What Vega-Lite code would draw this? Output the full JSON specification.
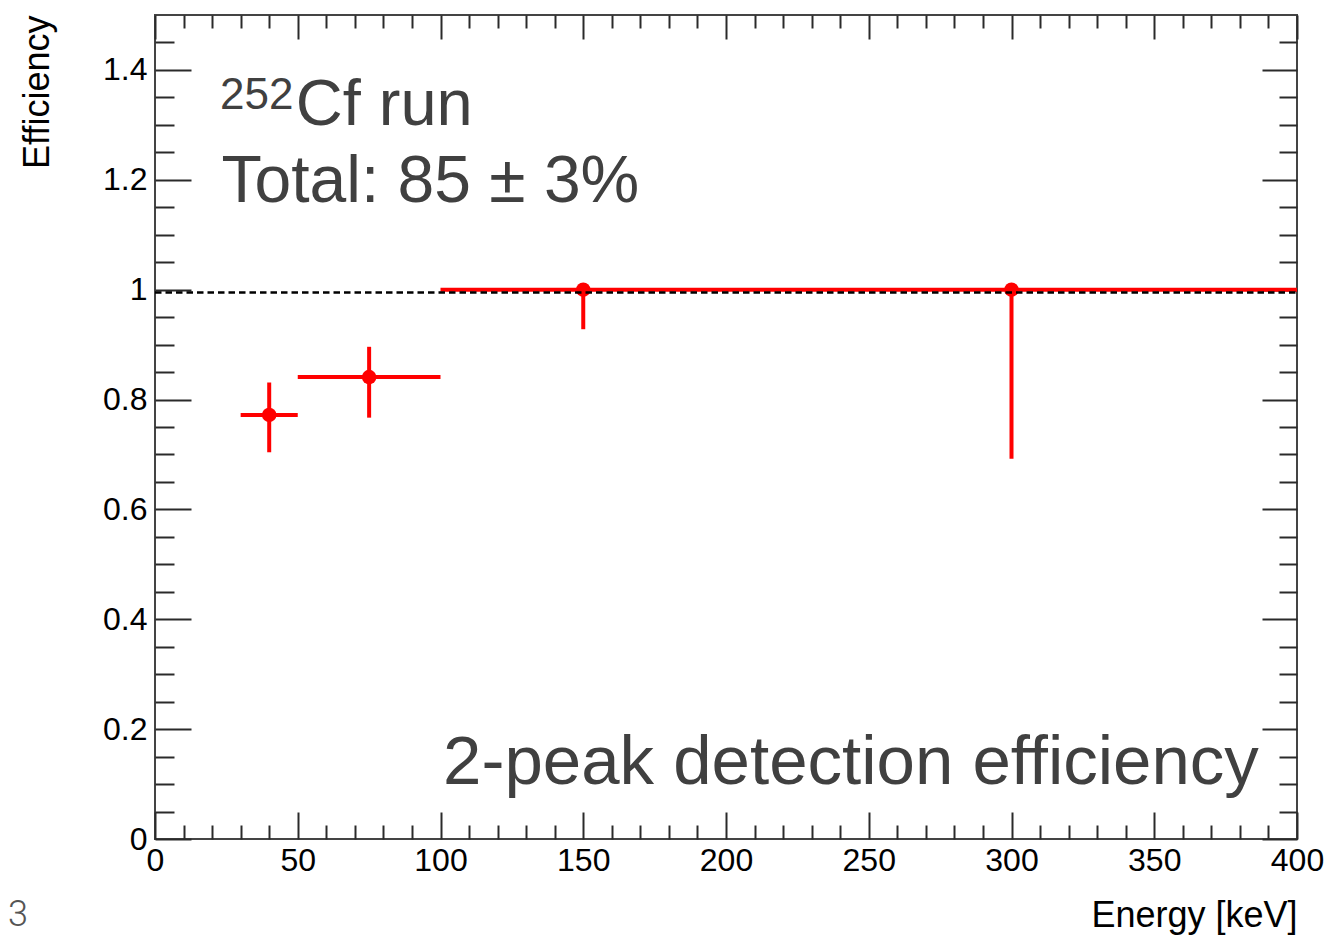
{
  "$schema": "https://vega.github.io/schema/vega-lite/v6.json",
  "width": 1142,
  "height": 824,
  "autosize": "none",
  "padding": {"left": 155, "top": 15, "right": 42, "bottom": 97},
  "background": "white",
  "config": {
    "view": {"stroke": "#444444", "strokeWidth": 2},
    "font": "Liberation Sans",
    "axis": {"grid": false, "domain": false, "tickCap": "butt", "tickColor": "#2a2a2a", "tickWidth": 2}
  },
  "datasets": {
    "points": [
      {"energy": 40, "elo": 30, "ehi": 50, "eff": 0.772, "efflo": 0.704, "effhi": 0.831},
      {"energy": 75, "elo": 50, "ehi": 100, "eff": 0.841, "efflo": 0.767, "effhi": 0.896},
      {"energy": 150, "elo": 100, "ehi": 200, "eff": 1.0, "efflo": 0.928, "effhi": 1.0},
      {"energy": 300, "elo": 200, "ehi": 400, "eff": 1.0, "efflo": 0.692, "effhi": 1.0}
    ],
    "reference": [{"from": 0, "to": 400, "level": 0.995}]
  },
  "resolve": {"axis": {"x": "independent", "y": "independent"}},
  "layer": [
    {
      "data": {"name": "points"},
      "mark": {"type": "point", "opacity": 0},
      "encoding": {
        "x": {"field": "energy", "type": "quantitative",
          "scale": {"domain": [0, 400], "nice": false, "zero": false},
          "axis": {"orient": "bottom", "values": [0, 50, 100, 150, 200, 250, 300, 350, 400], "format": "d",
            "ticks": false, "tickSize": 0, "labelFontSize": 32, "labelColor": "#000000", "labelPadding": 6,
            "labelFlush": false, "labelOverlap": false,
            "title": "Energy [keV]", "titleFontSize": 36, "titleFontWeight": "normal", "titleColor": "#000000",
            "titleAnchor": "end", "titlePadding": 22}},
        "y": {"field": "eff", "type": "quantitative",
          "scale": {"domain": [0, 1.5], "nice": false, "zero": false},
          "axis": {"orient": "left", "values": [0, 0.2, 0.4, 0.6, 0.8, 1, 1.2, 1.4], "format": ".1~f",
            "ticks": false, "tickSize": 0, "labelFontSize": 32, "labelColor": "#000000", "labelPadding": 8,
            "labelFlush": false, "labelOverlap": false,
            "title": "Efficiency", "titleFontSize": 36, "titleFontWeight": "normal", "titleColor": "#000000",
            "titleAnchor": "end", "titlePadding": 46}}
      }
    },
    {
      "data": {"name": "points"},
      "mark": {"type": "point", "opacity": 0},
      "encoding": {
        "x": {"field": "energy", "type": "quantitative",
          "axis": {"orient": "bottom", "values": [0, 50, 100, 150, 200, 250, 300, 350, 400], "labels": false, "tickSize": -27, "title": null}},
        "y": {"field": "eff", "type": "quantitative",
          "axis": {"orient": "left", "values": [0, 0.2, 0.4, 0.6, 0.8, 1, 1.2, 1.4], "labels": false, "tickSize": -36, "title": null}}
      }
    },
    {
      "data": {"name": "points"},
      "mark": {"type": "point", "opacity": 0},
      "encoding": {
        "x": {"field": "energy", "type": "quantitative",
          "axis": {"orient": "bottom", "values": [10, 20, 30, 40, 60, 70, 80, 90, 110, 120, 130, 140, 160, 170, 180, 190, 210, 220, 230, 240, 260, 270, 280, 290, 310, 320, 330, 340, 360, 370, 380, 390], "labels": false, "tickSize": -14, "title": null}},
        "y": {"field": "eff", "type": "quantitative",
          "axis": {"orient": "left", "values": [0.05, 0.1, 0.15, 0.25, 0.3, 0.35, 0.45, 0.5, 0.55, 0.65, 0.7, 0.75, 0.85, 0.9, 0.95, 1.05, 1.1, 1.15, 1.25, 1.3, 1.35, 1.45], "labels": false, "tickSize": -19, "title": null}}
      }
    },
    {
      "data": {"name": "points"},
      "mark": {"type": "point", "opacity": 0},
      "encoding": {
        "x": {"field": "energy", "type": "quantitative",
          "axis": {"orient": "top", "values": [0, 50, 100, 150, 200, 250, 300, 350, 400], "labels": false, "tickSize": -24, "title": null}},
        "y": {"field": "eff", "type": "quantitative",
          "axis": {"orient": "right", "values": [0, 0.2, 0.4, 0.6, 0.8, 1, 1.2, 1.4], "labels": false, "tickSize": -35, "title": null}}
      }
    },
    {
      "data": {"name": "points"},
      "mark": {"type": "point", "opacity": 0},
      "encoding": {
        "x": {"field": "energy", "type": "quantitative",
          "axis": {"orient": "top", "values": [10, 20, 30, 40, 60, 70, 80, 90, 110, 120, 130, 140, 160, 170, 180, 190, 210, 220, 230, 240, 260, 270, 280, 290, 310, 320, 330, 340, 360, 370, 380, 390], "labels": false, "tickSize": -13, "title": null}},
        "y": {"field": "eff", "type": "quantitative",
          "axis": {"orient": "right", "values": [0.05, 0.1, 0.15, 0.25, 0.3, 0.35, 0.45, 0.5, 0.55, 0.65, 0.7, 0.75, 0.85, 0.9, 0.95, 1.05, 1.1, 1.15, 1.25, 1.3, 1.35, 1.45], "labels": false, "tickSize": -18, "title": null}}
      }
    },
    {
      "data": {"name": "points"},
      "mark": {"type": "rule", "color": "#ff0000", "strokeWidth": 4},
      "encoding": {
        "x": {"field": "elo", "type": "quantitative", "axis": null},
        "x2": {"field": "ehi"},
        "y": {"field": "eff", "type": "quantitative", "axis": null}
      }
    },
    {
      "data": {"name": "points"},
      "mark": {"type": "rule", "color": "#ff0000", "strokeWidth": 4},
      "encoding": {
        "x": {"field": "energy", "type": "quantitative", "axis": null},
        "y": {"field": "efflo", "type": "quantitative", "axis": null},
        "y2": {"field": "effhi"}
      }
    },
    {
      "data": {"name": "points"},
      "mark": {"type": "circle", "color": "#ff0000", "opacity": 1, "size": 210},
      "encoding": {
        "x": {"field": "energy", "type": "quantitative", "axis": null},
        "y": {"field": "eff", "type": "quantitative", "axis": null}
      }
    },
    {
      "data": {"name": "reference"},
      "mark": {"type": "rule", "color": "#000000", "strokeWidth": 2.5, "strokeDash": [6.5, 4]},
      "encoding": {
        "x": {"field": "from", "type": "quantitative", "axis": null},
        "x2": {"field": "to"},
        "y": {"field": "level", "type": "quantitative", "axis": null}
      }
    },
    {
      "data": {"values": [{"label": "252", "ex": 22.8, "ey": 1.329}]},
      "mark": {"type": "text", "font": "Liberation Sans", "fontSize": 44, "color": "#404040", "align": "left", "baseline": "alphabetic"},
      "encoding": {
        "x": {"field": "ex", "type": "quantitative", "axis": null},
        "y": {"field": "ey", "type": "quantitative", "axis": null},
        "text": {"field": "label"}
      }
    },
    {
      "data": {"values": [{"label": "Cf run", "ex": 49.3, "ey": 1.3}]},
      "mark": {"type": "text", "font": "Liberation Sans", "fontSize": 65, "color": "#404040", "align": "left", "baseline": "alphabetic"},
      "encoding": {
        "x": {"field": "ex", "type": "quantitative", "axis": null},
        "y": {"field": "ey", "type": "quantitative", "axis": null},
        "text": {"field": "label"}
      }
    },
    {
      "data": {"values": [{"label": "Total: 85 ± 3%", "ex": 23.3, "ey": 1.16}]},
      "mark": {"type": "text", "font": "Liberation Sans", "fontSize": 66, "color": "#404040", "align": "left", "baseline": "alphabetic"},
      "encoding": {
        "x": {"field": "ex", "type": "quantitative", "axis": null},
        "y": {"field": "ey", "type": "quantitative", "axis": null},
        "text": {"field": "label"}
      }
    },
    {
      "data": {"values": [{"label": "2-peak detection efficiency", "ex": 100.9, "ey": 0.101}]},
      "mark": {"type": "text", "font": "Liberation Sans", "fontSize": 69, "color": "#404040", "align": "left", "baseline": "alphabetic"},
      "encoding": {
        "x": {"field": "ex", "type": "quantitative", "axis": null},
        "y": {"field": "ey", "type": "quantitative", "axis": null},
        "text": {"field": "label"}
      }
    },
    {
      "data": {"values": [{"label": "3", "ex": -51.5, "ey": -0.173}]},
      "mark": {"type": "text", "font": "Roboto", "fontWeight": 300, "fontSize": 36, "color": "#555555", "align": "left", "baseline": "bottom"},
      "encoding": {
        "x": {"field": "ex", "type": "quantitative", "axis": null},
        "y": {"field": "ey", "type": "quantitative", "axis": null},
        "text": {"field": "label"}
      }
    }
  ]
}
